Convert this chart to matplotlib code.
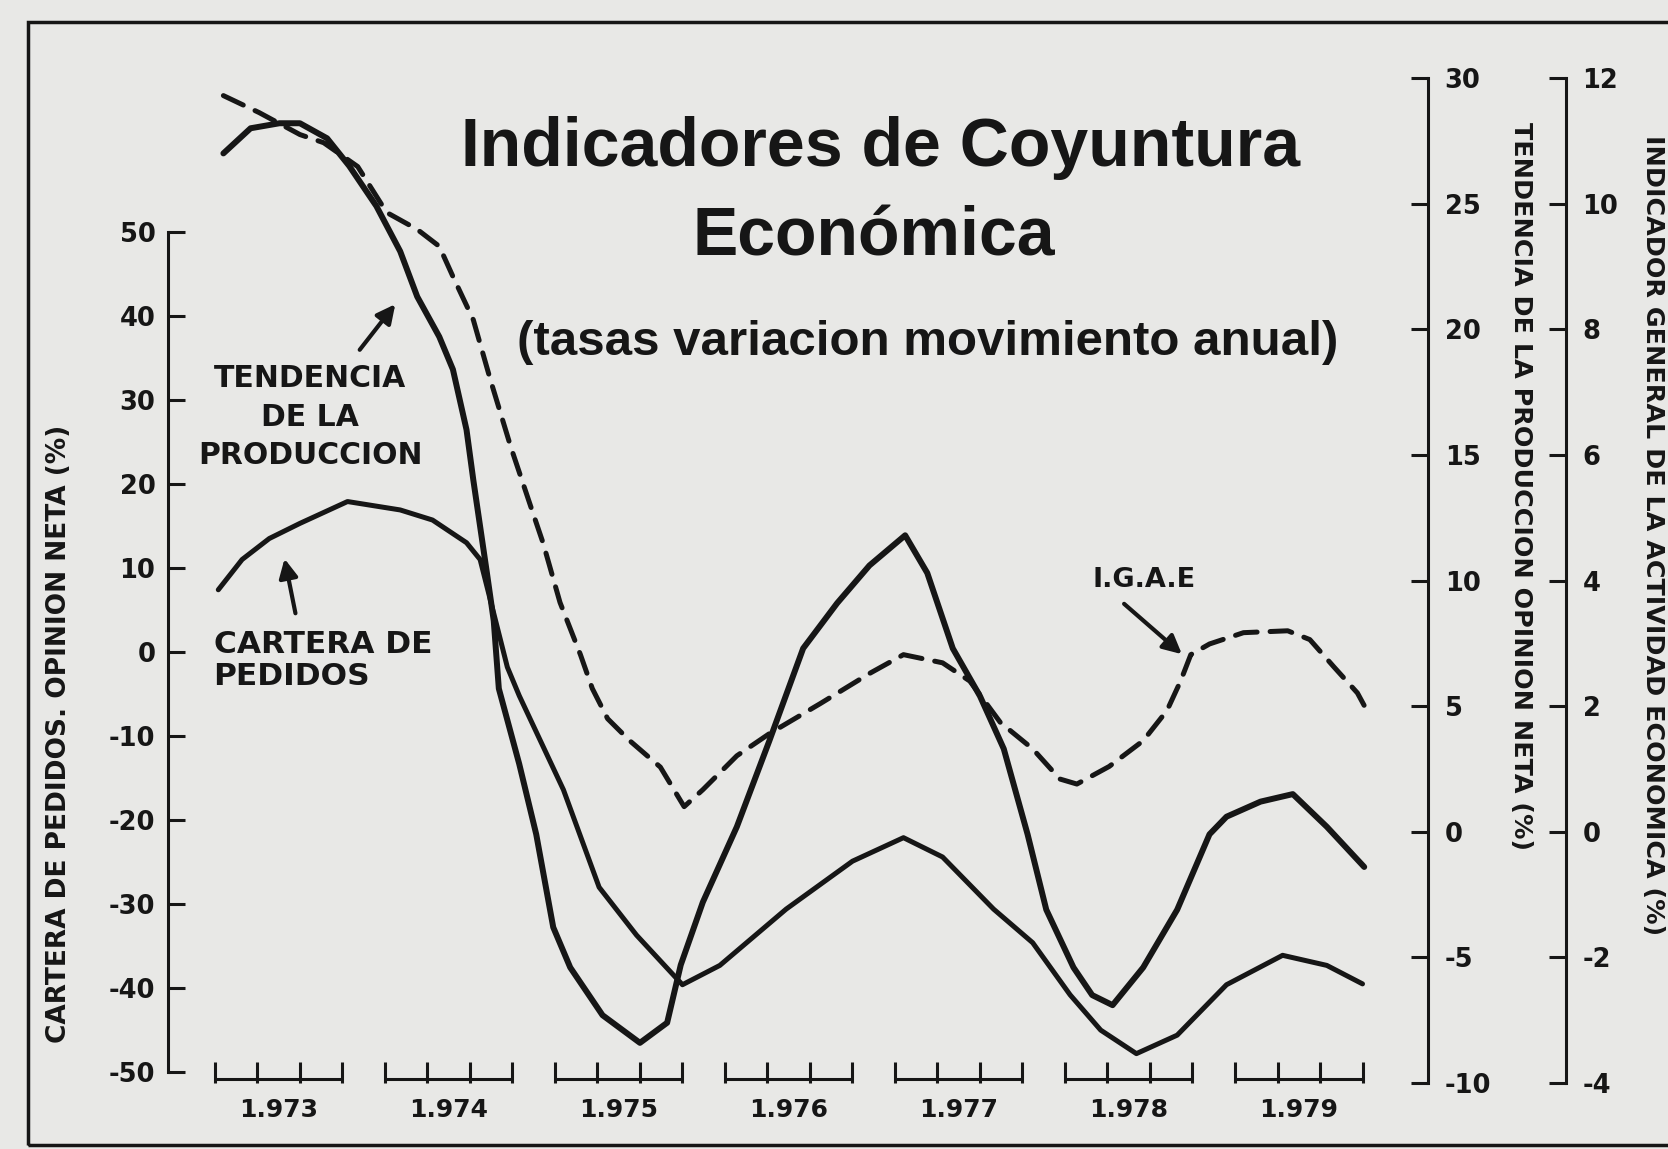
import matplotlib
matplotlib.use("Agg")
import matplotlib.pyplot as plt
from matplotlib.patches import Rectangle

# Tendencia de la producción, opinión neta (%)  -> right scale -10..30
tend_year = [1973.05, 1973.21, 1973.38, 1973.50, 1973.66, 1973.79, 1973.95, 1974.09,
             1974.19, 1974.32, 1974.40, 1974.48, 1974.52, 1974.60, 1974.64, 1974.67,
             1974.79, 1974.89, 1974.99, 1975.09, 1975.28, 1975.50, 1975.66, 1975.74,
             1975.87, 1976.07, 1976.26, 1976.46, 1976.66, 1976.85, 1977.06, 1977.19,
             1977.34, 1977.50, 1977.64, 1977.78, 1977.89, 1978.05, 1978.16, 1978.28,
             1978.46, 1978.66, 1978.85, 1978.95, 1979.15, 1979.34, 1979.54, 1979.76]
tend_val = [27.0, 28.0, 28.2, 28.2, 27.6, 26.5, 24.9, 23.1,
            21.3, 19.7, 18.4, 16.0, 14.0, 10.3, 8.4, 5.7,
            2.7, -0.1, -3.8, -5.4, -7.3, -8.4, -7.6, -5.3,
            -2.8, 0.2, 3.6, 7.3, 9.1, 10.6, 11.8, 10.3,
            7.3, 5.4, 3.3, -0.1, -3.1, -5.4, -6.5, -6.9,
            -5.4, -3.1, -0.1, 0.6, 1.2, 1.5, 0.2, -1.4]

# Cartera de pedidos, opinión neta (%)  -> left scale -50..50
cart_year = [1973.02, 1973.16, 1973.32, 1973.50, 1973.78, 1974.09, 1974.28, 1974.48,
             1974.56, 1974.72, 1974.79, 1975.05, 1975.26, 1975.48, 1975.75, 1975.97,
             1976.36, 1976.75, 1977.05, 1977.28, 1977.58, 1977.81, 1978.03, 1978.21,
             1978.42, 1978.66, 1978.95, 1979.28, 1979.54, 1979.75]
cart_val = [7.4, 11.0, 13.5, 15.3, 17.9, 16.9, 15.7, 13.0,
            11.0, -1.8, -5.2, -16.4, -28.0, -33.7, -39.6, -37.3,
            -30.6, -24.9, -22.1, -24.4, -30.6, -34.6, -40.8, -45.0,
            -47.8, -45.6, -39.6, -36.1, -37.3, -39.5]

# I.G.A.E. (%)  -> outer right scale -4..12
igae_year = [1973.05, 1973.26, 1973.50, 1973.64, 1973.84, 1974.01, 1974.19, 1974.32,
             1974.40, 1974.52, 1974.62, 1974.74, 1974.87, 1974.93, 1975.03, 1975.15,
             1975.22, 1975.31, 1975.44, 1975.62, 1975.76, 1975.87, 1976.07, 1976.26,
             1976.56, 1976.85, 1977.05, 1977.28, 1977.44, 1977.62, 1977.81, 1977.97,
             1978.07, 1978.26, 1978.46, 1978.60, 1978.68, 1978.74, 1978.85, 1979.05,
             1979.31, 1979.44, 1979.58, 1979.72, 1979.79]
igae_val = [11.72, 11.45, 11.10, 10.97, 10.59, 9.86, 9.59, 9.32,
            8.84, 8.15, 7.20, 6.13, 5.08, 4.60, 3.65, 2.82,
            2.28, 1.80, 1.45, 1.03, 0.40, 0.67, 1.21, 1.56,
            2.04, 2.52, 2.82, 2.69, 2.40, 1.74, 1.32, 0.84,
            0.76, 1.04, 1.45, 1.93, 2.40, 2.82, 2.99, 3.17,
            3.20, 3.06, 2.63, 2.21, 1.86]

years = [1973, 1974, 1975, 1976, 1977, 1978, 1979]
year_labels = ["1.973", "1.974", "1.975", "1.976", "1.977", "1.978", "1.979"]
left_ticks = [50, 40, 30, 20, 10, 0, -10, -20, -30, -40, -50]
tend_ticks = [30, 25, 20, 15, 10, 5, 0, -5, -10]
igae_ticks = [12, 10, 8, 6, 4, 2, 0, -2, -4]

INK = "#161616"
PAPER = "#e8e8e6"
WIDE = ["DejaVu Sans"]          # wide grotesque used for small caps labels
TITLE = ["Liberation Sans", "DejaVu Sans"]

plt.rcParams["font.family"] = ["DejaVu Sans"]
plt.rcParams["font.weight"] = "bold"
plt.rcParams["axes.unicode_minus"] = False

fig = plt.figure(figsize=(16.68, 11.49), dpi=100, facecolor=PAPER)
ax = fig.add_axes([0.1007, 0.0574, 0.7554, 0.8747])
ax.patch.set_alpha(0)
ax.set_xlim(1972.724, 1980.135)
ax.set_ylim(-51.3, 68.3)

ax2 = ax.twinx()
ax2.set_ylim(-10, 30)
ax3 = ax.twinx()
ax3.set_ylim(-4, 12)
ax3.spines["right"].set_position(("axes", 1.1095))

for a in (ax, ax2, ax3):
    for s in ("top", "bottom"):
        a.spines[s].set_visible(False)
ax.spines["right"].set_visible(False)
ax2.spines["left"].set_visible(False)
ax3.spines["left"].set_visible(False)

ax.spines["left"].set_bounds(-50, 50)
ax.spines["left"].set_linewidth(2.2)
ax.spines["left"].set_color(INK)
for a in (ax2, ax3):
    a.spines["right"].set_linewidth(2.2)
    a.spines["right"].set_color(INK)

ax.set_yticks(left_ticks)
ax.set_yticklabels([str(v) for v in left_ticks])
ax.tick_params(axis="y", direction="in", length=12, width=2.2, pad=9,
               labelsize=18.5, colors=INK)
ax2.set_yticks(tend_ticks)
ax2.set_yticklabels([str(v) for v in tend_ticks])
ax2.tick_params(axis="y", direction="in", length=12, width=2.2, pad=12,
                labelsize=18.5, colors=INK)
ax3.set_yticks(igae_ticks)
ax3.set_yticklabels([str(v) for v in igae_ticks])
ax3.tick_params(axis="y", direction="in", length=12, width=2.2, pad=12,
                labelsize=18.5, colors=INK)

# year brackets on the time axis
quarters = [y + q for y in years for q in (0, 0.25, 0.5, 0.75)]
ax.set_xticks([y + 0.375 for y in years])
ax.set_xticklabels(year_labels)
ax.set_xticks(quarters, minor=True)
ax.tick_params(axis="x", which="major", length=0, pad=11, labelsize=18, colors=INK)
ax.tick_params(axis="x", which="minor", direction="in", length=15, width=2.2,
               colors=INK)
ax.hlines([0.004] * len(years), years, [y + 0.75 for y in years],
          transform=ax.get_xaxis_transform(), color=INK, lw=2.2, clip_on=False)

ax2.plot(tend_year, tend_val, color=INK, lw=4.3, solid_capstyle="round",
         solid_joinstyle="round")
ax.plot(cart_year, cart_val, color=INK, lw=3.6, solid_capstyle="round",
        solid_joinstyle="round")
ax3.plot(igae_year, igae_val, color=INK, lw=3.6, linestyle=(0, (4.4, 2.6)),
         dash_capstyle="round")

# titles
fig.text(0.528, 0.871, "Indicadores de Coyuntura", ha="center", va="center",
         fontsize=49, fontweight="bold", color=INK, family=TITLE)
fig.text(0.524, 0.793, "Económica", ha="center", va="center",
         fontsize=49, fontweight="bold", color=INK, family=TITLE)
fig.text(0.556, 0.702, "(tasas variacion movimiento anual)", ha="center",
         va="center", fontsize=35.5, fontweight="bold", color=INK, family=TITLE)

# annotations
fig.text(0.186, 0.637, "TENDENCIA\nDE LA\nPRODUCCION", ha="center", va="center",
         multialignment="center", fontsize=21.5, linespacing=1.42, color=INK,
         family=WIDE)
fig.add_artist(plt.Annotation("", xy=(397 / 1668, 1 - 302 / 1149),
                              xytext=(358 / 1668, 1 - 352 / 1149),
                              xycoords="figure fraction", textcoords="figure fraction",
                              arrowprops=dict(arrowstyle="-|>", color=INK, lw=3,
                                              mutation_scale=28)))
fig.text(0.128, 0.425, "CARTERA DE\nPEDIDOS", ha="left", va="center",
         fontsize=22.5, linespacing=1.15, color=INK, family=WIDE)
fig.add_artist(plt.Annotation("", xy=(284 / 1668, 1 - 556 / 1149),
                              xytext=(296 / 1668, 1 - 616 / 1149),
                              xycoords="figure fraction", textcoords="figure fraction",
                              arrowprops=dict(arrowstyle="-|>", color=INK, lw=3,
                                              mutation_scale=28)))
fig.text(0.686, 0.495, "I.G.A.E", ha="center", va="center", fontsize=19.5,
         color=INK, family=WIDE)
fig.add_artist(plt.Annotation("", xy=(1184 / 1668, 1 - 656 / 1149),
                              xytext=(1122 / 1668, 1 - 602 / 1149),
                              xycoords="figure fraction", textcoords="figure fraction",
                              arrowprops=dict(arrowstyle="-|>", color=INK, lw=3,
                                              mutation_scale=28)))

# axis titles
fig.text(59 / 1668, 1 - 734 / 1149, "CARTERA DE PEDIDOS. OPINION NETA (%)",
         rotation=90, ha="center", va="center", fontsize=19, color=INK, family=WIDE)
fig.text(1521 / 1668, 1 - 486 / 1149, "TENDENCIA DE LA PRODUCCION OPINION NETA (%)",
         rotation=-90, ha="center", va="center", fontsize=18.3, color=INK, family=WIDE)
fig.text(1653 / 1668, 1 - 535 / 1149,
         "INDICADOR GENERAL DE LA ACTIVIDAD ECONOMICA (%)",
         rotation=-90, ha="center", va="center", fontsize=18.3, color=INK, family=WIDE)

# newspaper frame
fig.add_artist(Rectangle((28 / 1668, 1 - 1145 / 1149), 1.2, (1145 - 22) / 1149,
                         transform=fig.transFigure, fill=False, lw=2.5,
                         edgecolor=INK, clip_on=False))

fig.savefig("out.png", dpi=100, facecolor=PAPER)
